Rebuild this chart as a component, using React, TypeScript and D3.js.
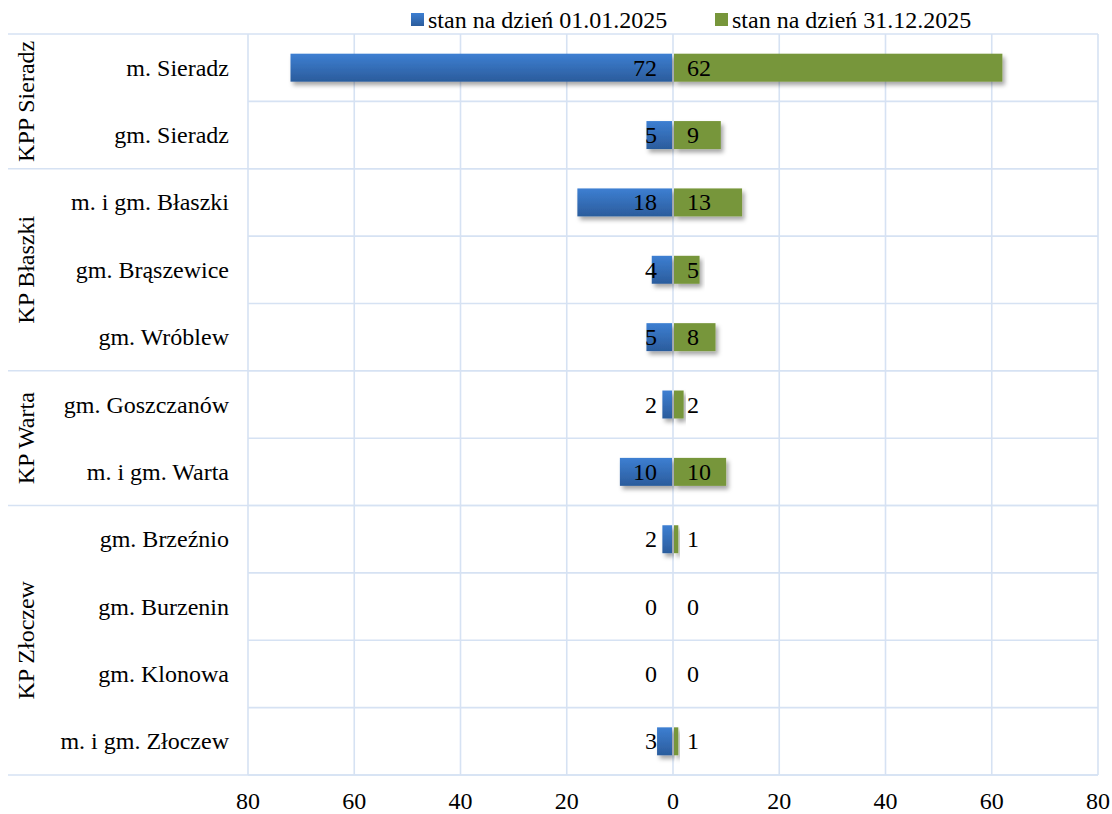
import React from "react";
import * as d3 from "d3";

const categories = [
  "m. Sieradz",
  "gm. Sieradz",
  "m. i gm. Błaszki",
  "gm. Brąszewice",
  "gm. Wróblew",
  "gm. Goszczanów",
  "m. i gm. Warta",
  "gm. Brzeźnio",
  "gm. Burzenin",
  "gm. Klonowa",
  "m. i gm. Złoczew",
];
const startValues = [72, 5, 18, 4, 5, 2, 10, 2, 0, 0, 3];
const endValues = [62, 9, 13, 5, 8, 2, 10, 1, 0, 0, 1];
const groupNames = ["KPP Sieradz", "KP Błaszki", "KP Warta", "KP Złoczew"];
const groupSizes = [2, 3, 2, 4];
const tickValues = [80, 60, 40, 20, 0, 20, 40, 60, 80];
const seriesNames = ["stan na dzień 01.01.2025", "stan na dzień 31.12.2025"];

const W = 1112;
const H = 814;
const FONT = "'Liberation Serif', 'Times New Roman', serif";
const GRID = "#d6e2f3";
const BLUE_TOP = "#3d7fd2";
const BLUE_BOT = "#2b5c9c";
const GREEN = "#77963b";

export default function App() {
  const zero = 673;
  const plotLeft = 248;
  const plotRight = 1098;
  const top = 34;
  const bottom = 775;
  const labelLeft = 8;

  const xL = d3.scaleLinear().domain([0, 80]).range([zero, plotLeft]);
  const xR = d3.scaleLinear().domain([0, 80]).range([zero, plotRight]);
  const y = d3.scaleBand<string>().domain(categories).range([top, bottom]).padding(0);
  const bh = y.bandwidth() * 0.415;

  const gridX = [80, 60, 40, 20].map((v) => xL(v)).concat([0, 20, 40, 60, 80].map((v) => xR(v)));
  const tickX = tickValues.map((v, i) => (i < 4 ? xL(v) : xR(v)));

  const groups: { name: string; y0: number; y1: number }[] = [];
  let idx = 0;
  groupNames.forEach((g, i) => {
    const y0 = y(categories[idx])!;
    idx += groupSizes[i];
    const y1 = y(categories[idx - 1])! + y.bandwidth();
    groups.push({ name: g, y0, y1 });
  });
  const groupLines = new Set<number>();
  groups.forEach((g) => {
    groupLines.add(g.y0);
    groupLines.add(g.y1);
  });

  return (
    <svg width={W} height={H} style={{ position: "absolute", left: 0, top: 0, fontFamily: FONT }}>
      <defs>
        <linearGradient id="blueGrad" x1="0" y1="0" x2="0" y2="1">
          <stop offset="0" stopColor={BLUE_TOP} />
          <stop offset="1" stopColor={BLUE_BOT} />
        </linearGradient>
        <filter id="shadow" x="-20%" y="-30%" width="140%" height="180%">
          <feDropShadow dx="2.5" dy="3.5" stdDeviation="2.2" floodColor="#000" floodOpacity="0.35" />
        </filter>
      </defs>
      <rect width={W} height={H} fill="#fff" />

      {categories.map((c) => (
        <line key={"r" + c} x1={plotLeft} x2={plotRight} y1={y(c)! + y.bandwidth()} y2={y(c)! + y.bandwidth()} stroke={GRID} strokeWidth={1.6} />
      ))}
      {[...groupLines].map((gy) => (
        <line key={"g" + gy} x1={labelLeft} x2={plotRight} y1={gy} y2={gy} stroke={GRID} strokeWidth={1.6} />
      ))}
      {gridX.map((gx, i) => (
        <line key={"v" + i} x1={gx} x2={gx} y1={top} y2={bottom} stroke={GRID} strokeWidth={1.6} />
      ))}

      {categories.map((c, i) => {
        const cy = y(c)! + y.bandwidth() / 2;
        const b = startValues[i];
        const e = endValues[i];
        return (
          <g key={"b" + c}>
            {b > 0 && (
              <rect x={xL(b)} y={cy - bh / 2} width={zero - 1 - xL(b)} height={bh} fill="url(#blueGrad)" filter="url(#shadow)" />
            )}
            {e > 0 && (
              <rect x={zero + 1} y={cy - bh / 2} width={xR(e) - zero - 1} height={bh} fill={GREEN} filter="url(#shadow)" />
            )}
          </g>
        );
      })}

      {categories.map((c, i) => {
        const cy = y(c)! + y.bandwidth() / 2;
        return (
          <g key={"l" + c} fontSize={24} fill="#000">
            <text x={zero - 16} y={cy} textAnchor="end" dominantBaseline="central">
              {startValues[i]}
            </text>
            <text x={zero + 14} y={cy} textAnchor="start" dominantBaseline="central">
              {endValues[i]}
            </text>
          </g>
        );
      })}

      {categories.map((c) => (
        <text key={"c" + c} x={229} y={y(c)! + y.bandwidth() / 2} textAnchor="end" dominantBaseline="central" fontSize={24} fill="#000">
          {c}
        </text>
      ))}

      {groups.map((g) => {
        const cy = (g.y0 + g.y1) / 2;
        return (
          <text key={"gl" + g.name} transform={`translate(26,${cy}) rotate(-90)`} textAnchor="middle" dominantBaseline="central" fontSize={24} fill="#000">
            {g.name}
          </text>
        );
      })}

      {tickX.map((tx, i) => (
        <text key={"t" + i} x={tx} y={801} textAnchor="middle" dominantBaseline="central" fontSize={24} fill="#000">
          {tickValues[i]}
        </text>
      ))}

      <g fontSize={24} fill="#000">
        <rect x={411} y={13} width={13} height={13} fill="url(#blueGrad)" />
        <text x={428} y={20} dominantBaseline="central">{seriesNames[0]}</text>
        <rect x={715} y={13} width={13} height={13} fill={GREEN} />
        <text x={732} y={20} dominantBaseline="central">{seriesNames[1]}</text>
      </g>
    </svg>
  );
}
